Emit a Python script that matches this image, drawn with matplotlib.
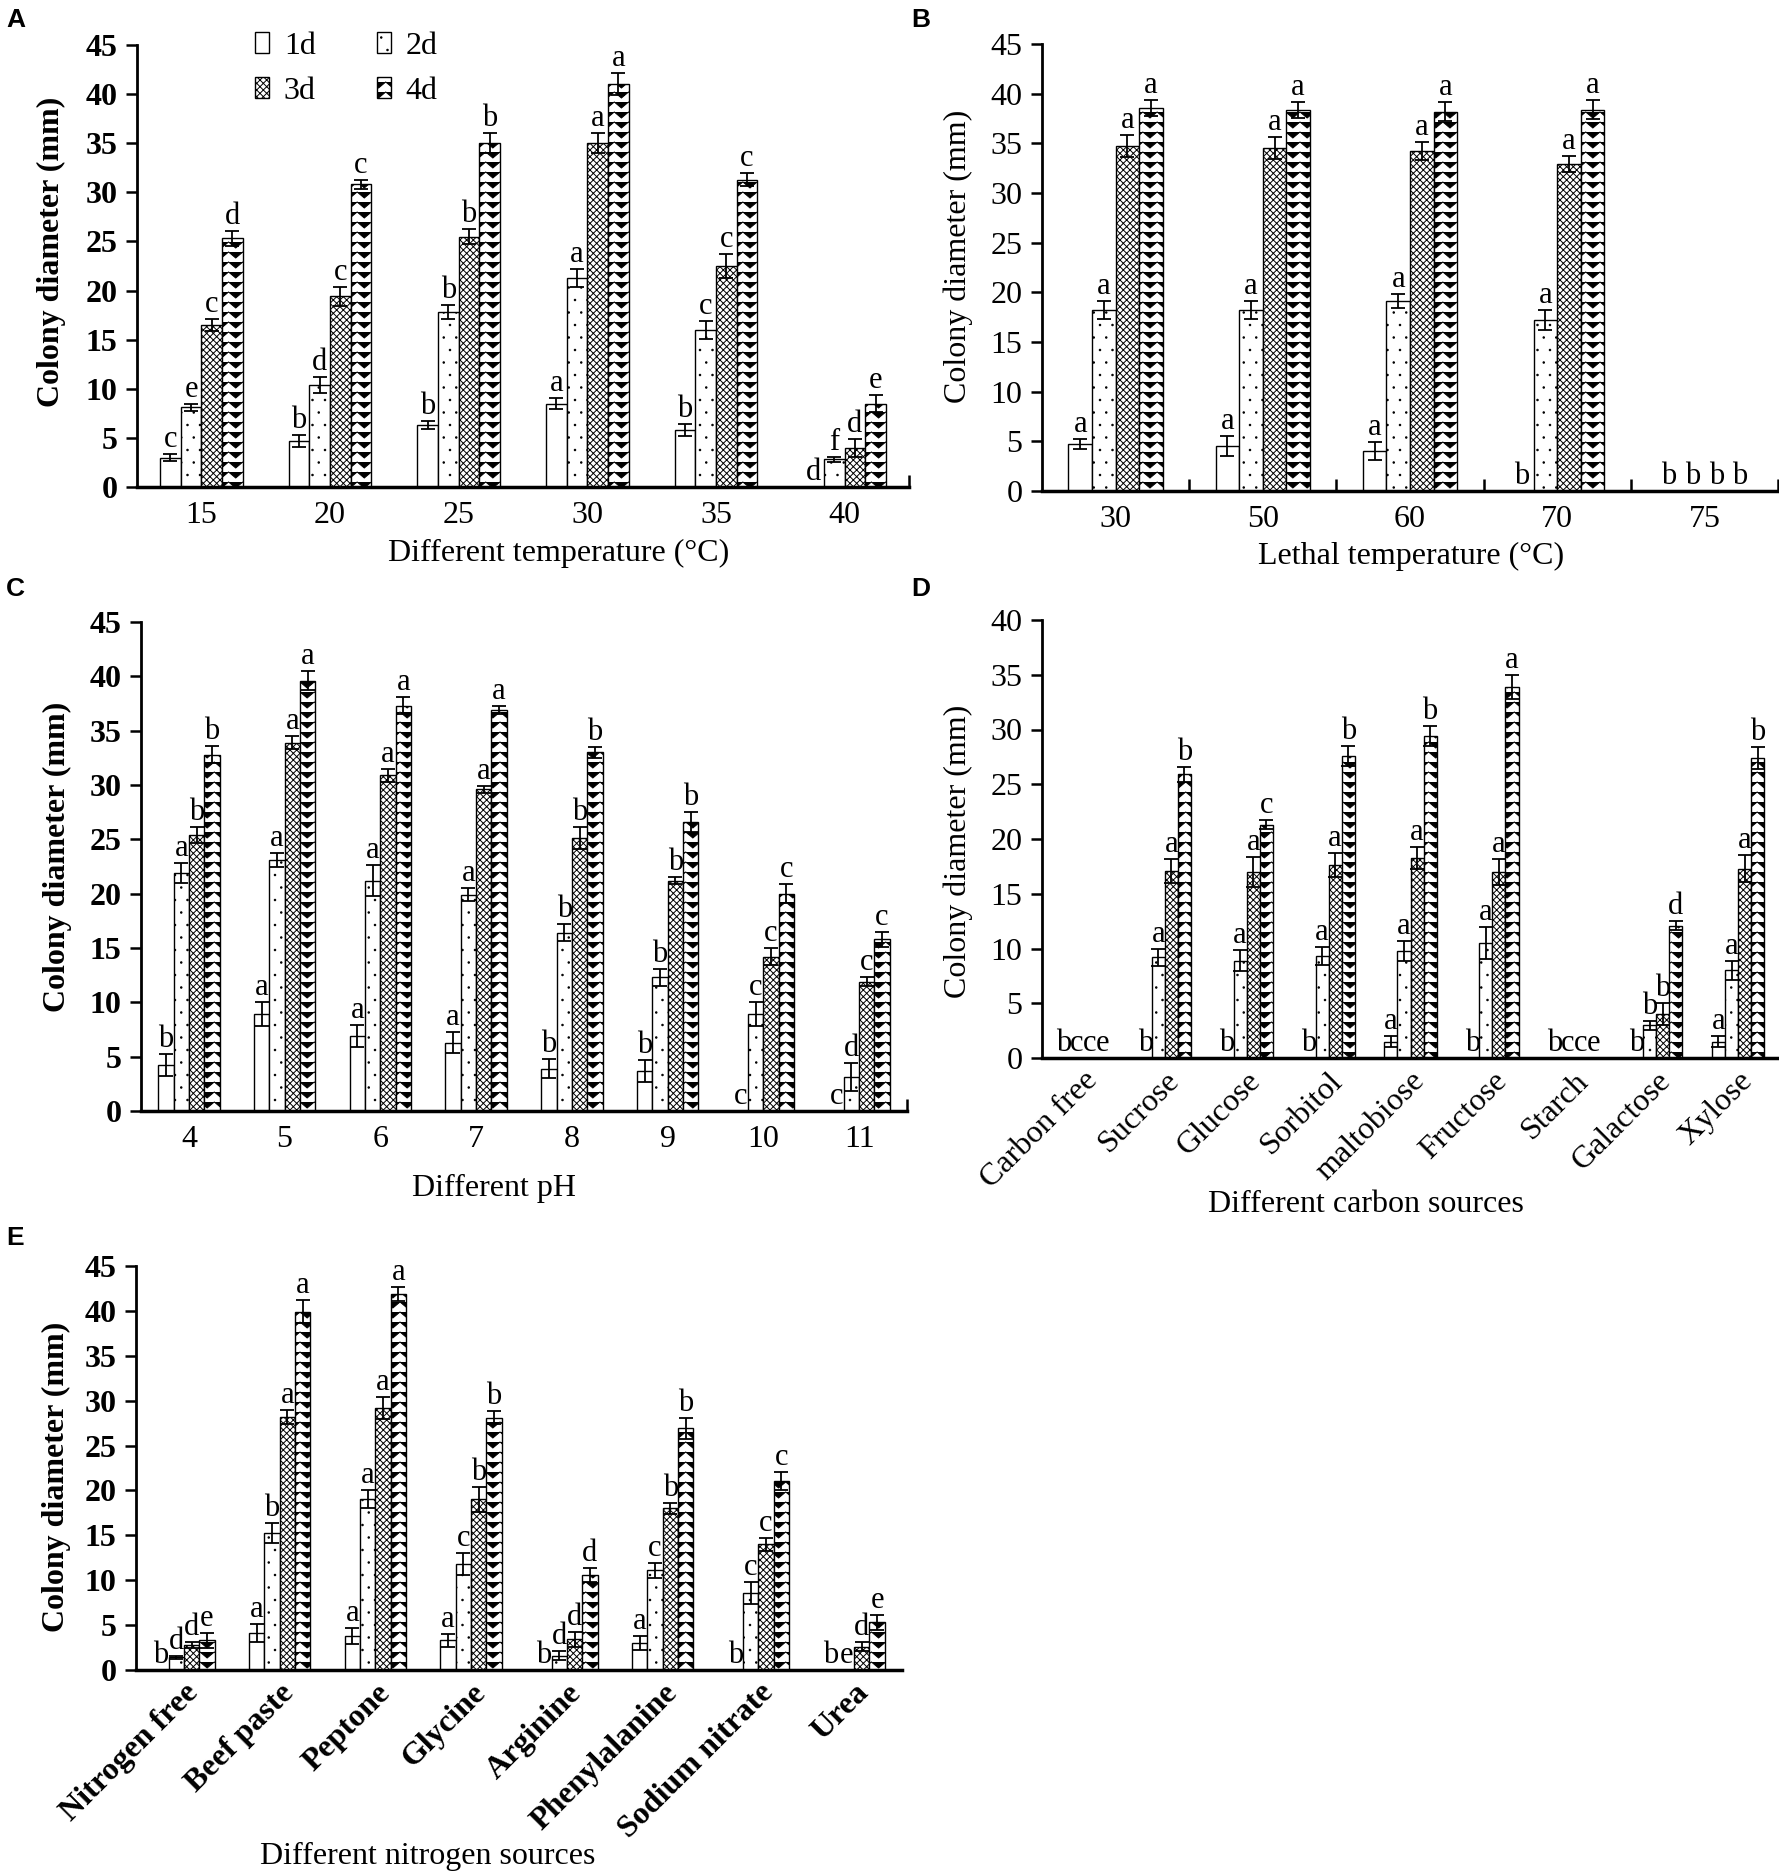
import warnings
import numpy as np
import matplotlib
matplotlib.use('Agg')
import matplotlib.pyplot as plt
import matplotlib.hatch as mhatch
from matplotlib.path import Path
from matplotlib.patches import Patch

warnings.filterwarnings('ignore')

plt.rcParams['font.family'] = ['Liberation Serif', 'DejaVu Serif']
plt.rcParams['hatch.linewidth'] = 0.7

# ---------------- data ----------------
days = ['1d', '2d', '3d', '4d']

# A: different temperature
temp_cats = ['15', '20', '25', '30', '35', '40']
temp_mean = [[3.0, 4.7, 6.3, 8.5, 5.8, 0.0],
             [8.1, 10.4, 17.8, 21.3, 16.0, 2.8],
             [16.5, 19.4, 25.5, 35.0, 22.5, 4.0],
             [25.3, 30.8, 35.0, 41.0, 31.3, 8.5]]
temp_err = [[0.4, 0.6, 0.4, 0.6, 0.6, 0.0],
            [0.4, 0.8, 0.7, 0.9, 0.9, 0.3],
            [0.6, 1.0, 0.8, 1.0, 1.2, 0.9],
            [0.8, 0.5, 1.0, 1.1, 0.7, 0.9]]
temp_sig = [['c', 'b', 'b', 'a', 'b', 'd'],
            ['e', 'd', 'b', 'a', 'c', 'f'],
            ['c', 'c', 'b', 'a', 'c', 'd'],
            ['d', 'c', 'b', 'a', 'c', 'e']]

# B: lethal temperature
lethal_cats = ['30', '50', '60', '70', '75']
lethal_mean = [[4.7, 4.5, 4.0, 0.0, 0.0],
               [18.2, 18.2, 19.1, 17.2, 0.0],
               [34.7, 34.5, 34.2, 32.9, 0.0],
               [38.6, 38.4, 38.2, 38.4, 0.0]]
lethal_err = [[0.5, 1.0, 0.9, 0.0, 0.0],
              [0.9, 0.9, 0.7, 1.0, 0.0],
              [1.1, 1.1, 0.9, 0.8, 0.0],
              [0.8, 0.8, 1.0, 1.0, 0.0]]
lethal_sig = [['a', 'a', 'a', 'b', 'b'],
              ['a', 'a', 'a', 'a', 'b'],
              ['a', 'a', 'a', 'a', 'b'],
              ['a', 'a', 'a', 'a', 'b']]

# C: different pH
ph_cats = ['4', '5', '6', '7', '8', '9', '10', '11']
ph_mean = [[4.2, 8.9, 6.9, 6.3, 3.9, 3.7, 0.0, 0.0],
           [21.9, 23.1, 21.2, 19.9, 16.4, 12.3, 8.9, 3.1],
           [25.4, 33.9, 30.9, 29.6, 25.1, 21.2, 14.2, 11.9],
           [32.8, 39.6, 37.3, 36.9, 33.0, 26.6, 20.0, 15.8]]
ph_err = [[1.0, 1.1, 1.0, 1.0, 0.9, 1.0, 0.0, 0.0],
          [0.9, 0.6, 1.4, 0.6, 0.8, 0.8, 1.1, 1.3],
          [0.7, 0.6, 0.6, 0.3, 1.0, 0.3, 0.8, 0.4],
          [0.8, 0.9, 0.8, 0.4, 0.5, 0.9, 0.9, 0.7]]
ph_sig = [['b', 'a', 'a', 'a', 'b', 'b', 'c', 'c'],
          ['a', 'a', 'a', 'a', 'b', 'b', 'c', 'd'],
          ['b', 'a', 'a', 'a', 'b', 'b', 'c', 'c'],
          ['b', 'a', 'a', 'a', 'b', 'b', 'c', 'c']]

# D: different carbon sources
carbon_cats = ['Carbon free', 'Sucrose', 'Glucose', 'Sorbitol', 'maltobiose',
               'Fructose', 'Starch', 'Galactose', 'Xylose']
carbon_mean = [[0.0, 0.0, 0.0, 0.0, 1.5, 0.0, 0.0, 0.0, 1.5],
               [0.0, 9.2, 8.9, 9.3, 9.8, 10.5, 0.0, 3.0, 8.0],
               [0.0, 17.1, 17.0, 17.6, 18.3, 17.0, 0.0, 4.0, 17.3],
               [0.0, 25.9, 21.3, 27.6, 29.4, 33.9, 0.0, 12.1, 27.4]]
carbon_err = [[0.0, 0.0, 0.0, 0.0, 0.5, 0.0, 0.0, 0.0, 0.5],
              [0.0, 0.8, 1.0, 0.8, 0.9, 1.5, 0.0, 0.4, 0.9],
              [0.0, 1.1, 1.4, 1.1, 1.0, 1.2, 0.0, 1.0, 1.2],
              [0.0, 0.7, 0.4, 0.9, 0.9, 1.1, 0.0, 0.4, 1.0]]
carbon_sig = [['b', 'b', 'b', 'b', 'a', 'b', 'b', 'b', 'a'],
              ['c', 'a', 'a', 'a', 'a', 'a', 'c', 'b', 'a'],
              ['c', 'a', 'a', 'a', 'a', 'a', 'c', 'b', 'a'],
              ['e', 'b', 'c', 'b', 'b', 'a', 'e', 'd', 'b']]

# E: different nitrogen sources
nitro_cats = ['Nitrogen free', 'Beef paste', 'Peptone', 'Glycine', 'Arginine',
              'Phenylalanine', 'Sodium nitrate', 'Urea']
nitro_mean = [[0.0, 4.1, 3.8, 3.3, 0.0, 3.0, 0.0, 0.0],
              [1.4, 15.3, 19.0, 11.8, 1.6, 11.1, 8.6, 0.0],
              [2.8, 28.2, 29.2, 19.0, 3.4, 18.0, 14.0, 2.6],
              [3.3, 39.9, 41.9, 28.1, 10.6, 26.9, 21.1, 5.3]]
nitro_err = [[0.0, 1.0, 0.9, 0.7, 0.0, 0.8, 0.0, 0.0],
             [0.2, 1.1, 1.0, 1.2, 0.5, 0.8, 1.2, 0.0],
             [0.3, 0.8, 1.2, 1.4, 0.8, 0.6, 0.7, 0.5],
             [0.8, 1.3, 0.8, 0.7, 0.8, 1.2, 1.0, 0.8]]
nitro_sig = [['b', 'a', 'a', 'a', 'b', 'a', 'b', 'b'],
             ['d', 'b', 'a', 'c', 'd', 'c', 'c', 'e'],
             ['d', 'a', 'a', 'b', 'd', 'b', 'c', 'd'],
             ['e', 'a', 'a', 'b', 'd', 'b', 'c', 'e']]


# chevron rows for the 4d bars ('z' in a hatch string)
class ZigZagHatch(mhatch.HatchPatternBase):
    def __init__(self, hatch, density):
        self.num_rows = hatch.count('z') * 2
        self.num_seg = 14
        self.num_vertices = self.num_rows * (self.num_seg + 1)

    def set_vertices_and_codes(self, vertices, codes):
        n = self.num_seg + 1
        xs = np.linspace(0.0, 1.0, n)
        amp = 0.3 / self.num_rows
        offs = np.where(np.arange(n) % 2 == 0, amp, -amp)
        for r in range(self.num_rows):
            y = (r + 0.5) / self.num_rows
            vertices[r * n:(r + 1) * n, 0] = xs
            vertices[r * n:(r + 1) * n, 1] = y + offs
            codes[r * n] = Path.MOVETO
            codes[r * n + 1:(r + 1) * n] = Path.LINETO


# small sparse dots for the 2d bars ('d' in a hatch string)
class TinyDots(mhatch.Circles):
    size = 0.06
    filled = True

    def __init__(self, hatch, density):
        self.num_rows = hatch.count('d') * 8
        super().__init__(hatch, density)


mhatch._hatch_types.append(ZigZagHatch)
mhatch._hatch_types.append(TinyDots)

hatches = ['', 'd', 'xxxxx', 'zzzzz']
W, H = 1779, 1871
fs = 23
fig = plt.figure(figsize=(W / 100, H / 100), dpi=100)


def px_axes(box):
    l, t, r, b = box
    return fig.add_axes([l / W, 1 - b / H, (r - l) / W, (b - t) / H])


def to_axes(x, y, box):
    l, t, r, b = box
    return (x - l) / (r - l), (b - y) / (b - t)


def panel(box, letter, letter_xy, cats, means, errs, sigs, ymax, xlabel,
          xlabel_xy, ylabel_xy, ybold, xbold, rotate, xticks_minor=None):
    ax = px_axes(box)
    x = np.arange(len(cats))
    w = 0.16
    for i in range(4):
        pos = x + (i - 1.5) * w
        m = np.array(means[i])
        e = np.array(errs[i])
        ax.bar(pos, m, w, facecolor='white', edgecolor='black', lw=1,
               hatch=hatches[i], zorder=2, label=days[i])
        keep = m > 0
        ax.errorbar(pos[keep], m[keep], yerr=e[keep], fmt='none', ecolor='black',
                    elinewidth=1.3, capsize=5, capthick=1.3, zorder=3)
        for p, v, er, s in zip(pos, m, e, sigs[i]):
            ax.text(p, v + er, s, ha='center', va='bottom', fontsize=22, zorder=4)
    ax.set_xlim(-0.5, len(cats) - 0.5)
    ax.set_ylim(0, ymax)
    ax.set_yticks(np.arange(0, ymax + 1, 5))
    for sp in ['top', 'right']:
        ax.spines[sp].set_visible(False)
    ax.spines['left'].set_linewidth(2)
    ax.spines['bottom'].set_linewidth(2.5)
    ax.spines['bottom'].set_zorder(5)
    ax.tick_params(axis='y', direction='out', length=8, width=1.8, labelsize=fs, pad=6)
    ax.tick_params(axis='x', which='major', length=0, labelsize=fs, pad=10)
    for t in ax.get_yticklabels():
        t.set_fontweight('bold' if ybold else 'normal')
    if rotate:
        ax.set_xticks(x, cats, rotation=45, ha='right', rotation_mode='anchor',
                      fontweight='bold' if xbold else 'normal')
        ax.tick_params(axis='x', pad=6)
    else:
        ax.set_xticks(x, cats, fontweight='bold' if xbold else 'normal')
    if xticks_minor is not None:
        ax.set_xticks(xticks_minor, minor=True)
        ax.tick_params(axis='x', which='minor', direction='in', length=9, width=1.8)
    ax.set_ylabel('Colony diameter (mm)', fontsize=fs,
                  fontweight='bold' if ybold else 'normal')
    ax.yaxis.set_label_coords(*to_axes(*ylabel_xy, box))
    ax.yaxis.label.set_va('center')
    ax.set_xlabel(xlabel, fontsize=fs)
    ax.xaxis.set_label_coords(*to_axes(*xlabel_xy, box))
    ax.xaxis.label.set_va('center')
    fig.text(letter_xy[0] / W, 1 - letter_xy[1] / H, letter, family='Liberation Sans',
             fontweight='bold', fontsize=19, ha='left', va='center')
    return ax


boxA = (137, 45, 909, 487)
axA = panel(boxA, 'A', (6, 20), temp_cats, temp_mean, temp_err, temp_sig, 45,
            'Different temperature (°C)', (559, 553), (51, 252), True, False, False,
            xticks_minor=[len(temp_cats) - 0.5])
# legend fills column-wise, so order the handles to read 1d 2d / 3d 4d by rows
order = [0, 2, 1, 3]
handles = [Patch(facecolor='white', edgecolor='black', hatch=hatches[k], lw=1) for k in order]
axA.legend(handles, [days[k] for k in order], ncol=2, loc='upper left',
           bbox_to_anchor=(0.153, 1.03), frameon=False, fontsize=fs,
           handlelength=0.45, handleheight=0.6, handletextpad=0.45,
           columnspacing=1.9, labelspacing=0.5, borderpad=0, borderaxespad=0)

boxB = (1042, 44, 1778, 491)
panel(boxB, 'B', (911, 20), lethal_cats, lethal_mean, lethal_err, lethal_sig, 45,
      'Lethal temperature (°C)', (1411, 556), (958, 256), False, False, False,
      xticks_minor=np.arange(0.5, len(lethal_cats) - 0.4, 1.0))

boxC = (141, 622, 907, 1111)
panel(boxC, 'C', (6, 589), ph_cats, ph_mean, ph_err, ph_sig, 45,
      'Different pH', (494, 1188), (57, 857), True, False, False,
      xticks_minor=[len(ph_cats) - 0.5])

boxD = (1042, 620, 1779, 1058)
panel(boxD, 'D', (911, 589), carbon_cats, carbon_mean, carbon_err, carbon_sig, 40,
      'Different carbon sources', (1366, 1204), (958, 851), False, False, True)

boxE = (136, 1266, 902, 1670)
panel(boxE, 'E', (6, 1238), nitro_cats, nitro_mean, nitro_err, nitro_sig, 45,
      'Different nitrogen sources', (428, 1856), (56, 1477), True, True, True)

fig.savefig('out.png', dpi=100, facecolor='white')
